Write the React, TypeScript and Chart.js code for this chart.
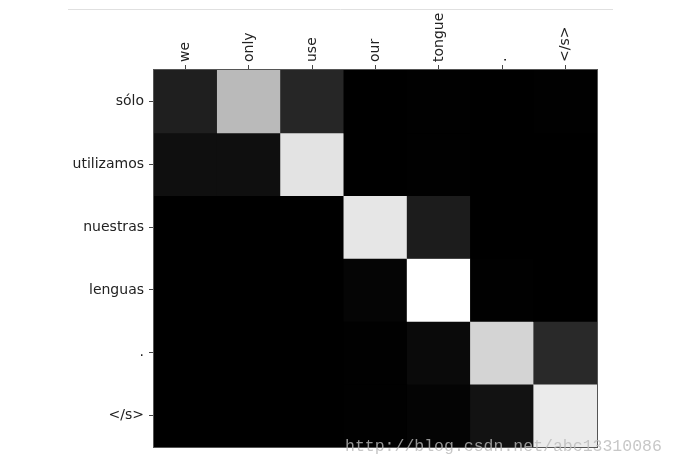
import React, { useEffect, useRef } from 'react';
import { Chart, registerables } from 'chart.js';

Chart.register(...registerables);

// Source (columns) and target (rows) tokens
const sourceTokens = ['we', 'only', 'use', 'our', 'tongue', '.', '</s>'];
const targetTokens = ['sólo', 'utilizamos', 'nuestras', 'lenguas', '.', '</s>'];

// Attention weights, one array per target row
const soloRow = [0.12, 0.73, 0.15, 0.0, 0.005, 0.0, 0.005];
const utilizamosRow = [0.06, 0.06, 0.89, 0.0, 0.005, 0.0, 0.0];
const nuestrasRow = [0.0, 0.0, 0.0, 0.9, 0.11, 0.0, 0.0];
const lenguasRow = [0.0, 0.0, 0.0, 0.02, 1.0, 0.005, 0.0];
const periodRow = [0.0, 0.0, 0.0, 0.005, 0.04, 0.83, 0.16];
const endRow = [0.0, 0.0, 0.0, 0.005, 0.015, 0.07, 0.92];
const attention = [soloRow, utilizamosRow, nuestrasRow, lenguasRow, periodRow, endRow];

const watermark = 'http://blog.csdn.net/abc13310086';

function gray(v: number) {
  const c = Math.round(Math.max(0, Math.min(1, v)) * 255);
  return `rgb(${c},${c},${c})`;
}

const decorPlugin = {
  id: 'decor',
  beforeDatasetsDraw(chart: any) {
    const { ctx, chartArea } = chart;
    ctx.save();
    ctx.fillStyle = '#000';
    ctx.fillRect(chartArea.left, chartArea.top, chartArea.right - chartArea.left, chartArea.bottom - chartArea.top);
    ctx.restore();
  },
  afterDraw(chart: any) {
    const { ctx, chartArea } = chart;
    ctx.save();
    // frame
    ctx.strokeStyle = '#555';
    ctx.lineWidth = 1;
    ctx.strokeRect(
      Math.round(chartArea.left) - 0.5,
      Math.round(chartArea.top) - 0.5,
      Math.round(chartArea.right - chartArea.left) + 1,
      Math.round(chartArea.bottom - chartArea.top) + 1
    );
    // top separator line
    ctx.strokeStyle = '#e0e0e0';
    ctx.beginPath();
    ctx.moveTo(68, 9.5);
    ctx.lineTo(613, 9.5);
    ctx.stroke();
    // watermark
    ctx.fillStyle = 'rgba(185,185,185,0.8)';
    ctx.font = '16.5px "Liberation Mono", monospace';
    ctx.textBaseline = 'alphabetic';
    ctx.textAlign = 'left';
    ctx.fillText(watermark, 345, 451);
    ctx.restore();
  },
};

export default function App() {
  const ref = useRef<HTMLCanvasElement>(null);

  useEffect(() => {
    if (!ref.current) return;
    const datasets = targetTokens.map((t, r) => ({
      label: t,
      data: sourceTokens.map(() => [r - 0.5, r + 0.5]),
      backgroundColor: attention[r].map(gray),
      borderWidth: 0,
      barPercentage: 1,
      categoryPercentage: 1,
      grouped: false,
    }));

    const tickFont = { family: '"DejaVu Sans", sans-serif', size: 14 };

    const chart = new Chart(ref.current, {
      type: 'bar',
      data: { labels: sourceTokens, datasets: datasets as any },
      options: {
        responsive: false,
        animation: false,
        layout: { padding: { left: 0, top: 0, right: 79, bottom: 19 } },
        plugins: {
          legend: { display: false },
          tooltip: { enabled: false },
        },
        scales: {
          x: {
            position: 'top',
            offset: true,
            grid: {
              display: true,
              drawOnChartArea: false,
              drawTicks: true,
              offset: false,
              tickLength: 5,
              color: '#444',
            },
            border: { display: false },
            ticks: {
              autoSkip: false,
              maxRotation: 90,
              minRotation: 90,
              padding: 3,
              labelOffset: 17,
              color: '#222',
              font: tickFont,
            },
            afterFit: (s: any) => {
              s.height = 70;
            },
          },
          y: {
            type: 'linear',
            min: -0.5,
            max: 5.5,
            reverse: true,
            afterBuildTicks: (s: any) => {
              s.ticks = targetTokens.map((_, i) => ({ value: i }));
            },
            grid: {
              display: true,
              drawOnChartArea: false,
              drawTicks: true,
              tickLength: 5,
              color: '#444',
            },
            border: { display: false },
            ticks: {
              autoSkip: false,
              padding: 5,
              color: '#222',
              font: tickFont,
              callback: (v: any) => targetTokens[Math.round(Number(v))] ?? '',
            },
            afterFit: (s: any) => {
              s.width = 154;
            },
          },
        },
      } as any,
      plugins: [decorPlugin],
    });
    return () => chart.destroy();
  }, []);

  return (
    <div style={{ position: 'absolute', left: 0, top: 0, width: 676, height: 466, background: '#fff' }}>
      <canvas ref={ref} width={676} height={466} style={{ display: 'block' }} />
    </div>
  );
}
